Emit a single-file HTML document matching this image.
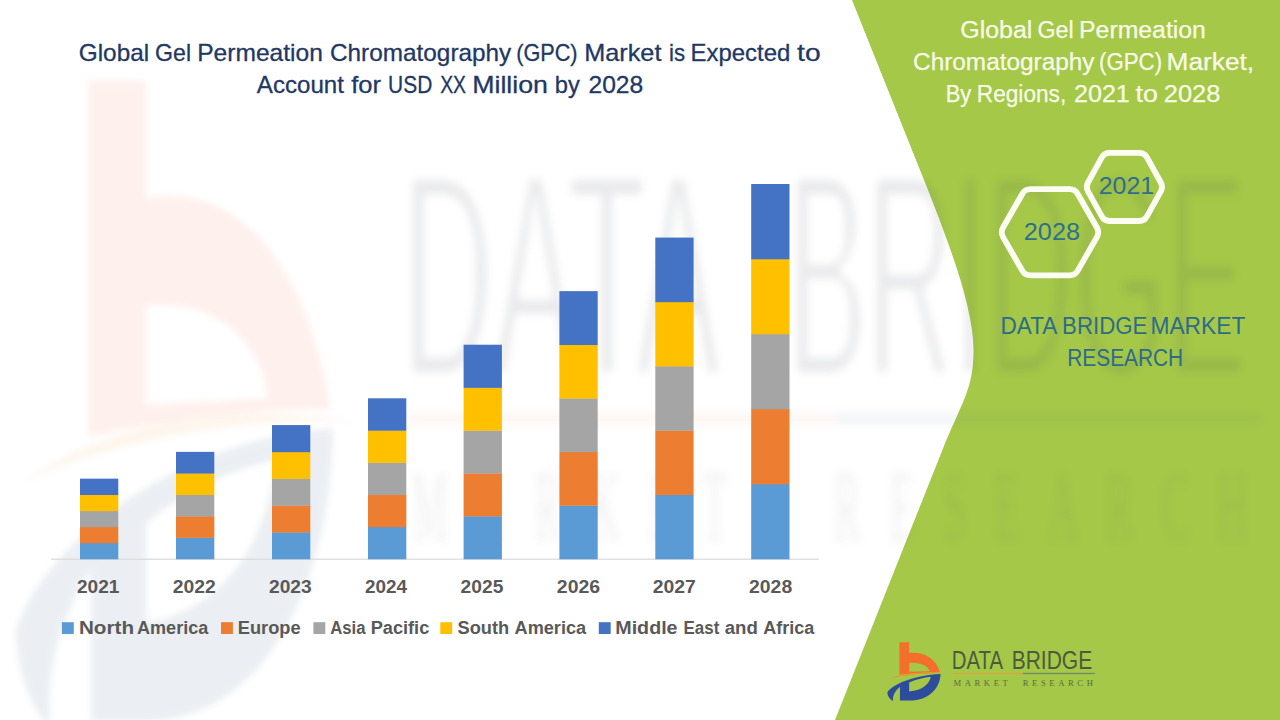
<!DOCTYPE html>
<html><head><meta charset="utf-8"><title>Global Gel Permeation Chromatography (GPC) Market</title>
<style>
html,body{margin:0;padding:0;background:#fff;}
body{width:1280px;height:720px;overflow:hidden;font-family:"Liberation Sans",sans-serif;}
svg{display:block;}
text{font-family:"Liberation Sans",sans-serif;}
text.srf{font-family:"Liberation Serif",serif;}
</style></head><body>
<svg width="1280" height="720" viewBox="0 0 1280 720">
<defs>
<filter id="blur" x="-5%" y="-5%" width="110%" height="110%"><feGaussianBlur stdDeviation="5"/></filter>
<filter id="blur3" x="-5%" y="-5%" width="110%" height="110%"><feGaussianBlur stdDeviation="3"/></filter>
<filter id="thin" x="-5%" y="-5%" width="110%" height="110%"><feMorphology operator="erode" radius="1 4"/><feGaussianBlur stdDeviation="4.5"/></filter>
</defs>
<rect width="1280" height="720" fill="#ffffff"/>

<path fill="#a5c848" d="M852,0 L924,180 C952,250 973.5,310 973.5,350 C973.5,390 962,401 942,451 L835,720 L1280,720 L1280,0 Z"/>
<g filter="url(#blur3)" opacity="0.082">
<g transform="translate(-27.93,11.10) scale(0.58042,1.06944)">
    <path fill="#f4582a" fill-rule="evenodd" d="M200,65 L300,65 L300,175 C430,160 570,215 618,372 C480,372 330,382 200,398 Z M300,275 L300,368 L510,362 C500,310 420,268 300,275 Z"/>
    <path fill="#e8962e" d="M85,440 C250,380 450,366 660,384 C450,380 250,402 85,440 Z"/>
    <path fill="#1d3f70" fill-rule="evenodd" d="M75,580 C120,500 350,400 622,390 C620,520 520,662 300,664 L205,664 L205,522 C160,560 125,610 135,670 C100,650 78,620 75,580 Z M300,478 C380,445 450,428 522,420 C512,490 440,560 300,572 Z"/>
  </g>
</g>
<g filter="url(#thin)" opacity="0.115">
<g transform="translate(0,376) scale(1,2.9070)">
<text x="402.22" y="0.00" font-size="100" fill="#454b58" textLength="318.01" lengthAdjust="spacingAndGlyphs">DATA</text>
<text x="787.18" y="0.00" font-size="100" fill="#454b58" textLength="458.96" lengthAdjust="spacingAndGlyphs">BRIDGE</text>
</g>
</g>
<g filter="url(#blur)" opacity="0.085">
<rect x="408" y="414.5" width="426" height="8" fill="#f07f3c"/>
<rect x="834" y="414.5" width="428" height="8" fill="#4f6496"/>
<g transform="translate(412,541) scale(1,2.5191)"><text x="0" y="0" font-size="40" fill="#4a5060" textLength="835" lengthAdjust="spacing" class="srf" xml:space="preserve">MARKET  RESEARCH</text></g>
</g>
<rect x="51" y="558.6" width="768" height="1.2" fill="#d9d9d9"/>
<rect x="80.0" y="542.93" width="38.3" height="16.37" fill="#5b9bd5"/>
<rect x="80.0" y="526.86" width="38.3" height="16.37" fill="#ed7d31"/>
<rect x="80.0" y="510.79" width="38.3" height="16.37" fill="#a5a5a5"/>
<rect x="80.0" y="494.71" width="38.3" height="16.37" fill="#ffc000"/>
<rect x="80.0" y="478.64" width="38.3" height="16.37" fill="#4472c4"/>
<rect x="176.0" y="537.57" width="38.3" height="21.73" fill="#5b9bd5"/>
<rect x="176.0" y="516.14" width="38.3" height="21.73" fill="#ed7d31"/>
<rect x="176.0" y="494.71" width="38.3" height="21.73" fill="#a5a5a5"/>
<rect x="176.0" y="473.29" width="38.3" height="21.73" fill="#ffc000"/>
<rect x="176.0" y="451.86" width="38.3" height="21.73" fill="#4472c4"/>
<rect x="272.0" y="532.21" width="38.3" height="27.09" fill="#5b9bd5"/>
<rect x="272.0" y="505.43" width="38.3" height="27.09" fill="#ed7d31"/>
<rect x="272.0" y="478.64" width="38.3" height="27.09" fill="#a5a5a5"/>
<rect x="272.0" y="451.86" width="38.3" height="27.09" fill="#ffc000"/>
<rect x="272.0" y="425.07" width="38.3" height="27.09" fill="#4472c4"/>
<rect x="368.0" y="526.86" width="38.3" height="32.44" fill="#5b9bd5"/>
<rect x="368.0" y="494.71" width="38.3" height="32.44" fill="#ed7d31"/>
<rect x="368.0" y="462.57" width="38.3" height="32.44" fill="#a5a5a5"/>
<rect x="368.0" y="430.43" width="38.3" height="32.44" fill="#ffc000"/>
<rect x="368.0" y="398.29" width="38.3" height="32.44" fill="#4472c4"/>
<rect x="463.6" y="516.14" width="38.3" height="43.16" fill="#5b9bd5"/>
<rect x="463.6" y="473.29" width="38.3" height="43.16" fill="#ed7d31"/>
<rect x="463.6" y="430.43" width="38.3" height="43.16" fill="#a5a5a5"/>
<rect x="463.6" y="387.57" width="38.3" height="43.16" fill="#ffc000"/>
<rect x="463.6" y="344.71" width="38.3" height="43.16" fill="#4472c4"/>
<rect x="559.4" y="505.43" width="38.3" height="53.87" fill="#5b9bd5"/>
<rect x="559.4" y="451.86" width="38.3" height="53.87" fill="#ed7d31"/>
<rect x="559.4" y="398.29" width="38.3" height="53.87" fill="#a5a5a5"/>
<rect x="559.4" y="344.71" width="38.3" height="53.87" fill="#ffc000"/>
<rect x="559.4" y="291.14" width="38.3" height="53.87" fill="#4472c4"/>
<rect x="655.3" y="494.71" width="38.3" height="64.59" fill="#5b9bd5"/>
<rect x="655.3" y="430.43" width="38.3" height="64.59" fill="#ed7d31"/>
<rect x="655.3" y="366.14" width="38.3" height="64.59" fill="#a5a5a5"/>
<rect x="655.3" y="301.86" width="38.3" height="64.59" fill="#ffc000"/>
<rect x="655.3" y="237.57" width="38.3" height="64.59" fill="#4472c4"/>
<rect x="751.2" y="484.00" width="38.3" height="75.30" fill="#5b9bd5"/>
<rect x="751.2" y="409.00" width="38.3" height="75.30" fill="#ed7d31"/>
<rect x="751.2" y="334.00" width="38.3" height="75.30" fill="#a5a5a5"/>
<rect x="751.2" y="259.00" width="38.3" height="75.30" fill="#ffc000"/>
<rect x="751.2" y="184.00" width="38.3" height="75.30" fill="#4472c4"/>
<text x="76.94" y="592.80" font-size="17.6" fill="#595959" font-weight="bold" textLength="42.39" lengthAdjust="spacingAndGlyphs">2021</text>
<text x="172.73" y="592.80" font-size="17.6" fill="#595959" font-weight="bold" textLength="43.05" lengthAdjust="spacingAndGlyphs">2022</text>
<text x="269.04" y="592.80" font-size="17.6" fill="#595959" font-weight="bold" textLength="42.66" lengthAdjust="spacingAndGlyphs">2023</text>
<text x="364.94" y="592.80" font-size="17.6" fill="#595959" font-weight="bold" textLength="42.06" lengthAdjust="spacingAndGlyphs">2024</text>
<text x="460.63" y="592.80" font-size="17.6" fill="#595959" font-weight="bold" textLength="42.70" lengthAdjust="spacingAndGlyphs">2025</text>
<text x="556.83" y="592.80" font-size="17.6" fill="#595959" font-weight="bold" textLength="43.28" lengthAdjust="spacingAndGlyphs">2026</text>
<text x="652.73" y="592.80" font-size="17.6" fill="#595959" font-weight="bold" textLength="43.12" lengthAdjust="spacingAndGlyphs">2027</text>
<text x="749.03" y="592.80" font-size="17.6" fill="#595959" font-weight="bold" textLength="43.17" lengthAdjust="spacingAndGlyphs">2028</text>
<rect x="61.9" y="622.2" width="11.9" height="11.8" fill="#5b9bd5"/>
<rect x="221.0" y="622.2" width="11.9" height="11.8" fill="#ed7d31"/>
<rect x="313.4" y="622.2" width="11.9" height="11.8" fill="#a5a5a5"/>
<rect x="440.3" y="622.2" width="11.9" height="11.8" fill="#ffc000"/>
<rect x="598.8" y="622.2" width="11.9" height="11.8" fill="#4472c4"/>
<text x="78.92" y="634.00" font-size="17.6" fill="#595959" font-weight="bold" textLength="55.17" lengthAdjust="spacingAndGlyphs">North</text>
<text x="137.05" y="634.00" font-size="17.6" fill="#595959" font-weight="bold" textLength="71.23" lengthAdjust="spacingAndGlyphs">America</text>
<text x="237.78" y="634.00" font-size="17.6" fill="#595959" font-weight="bold" textLength="62.84" lengthAdjust="spacingAndGlyphs">Europe</text>
<text x="330.18" y="634.00" font-size="17.6" fill="#595959" font-weight="bold" textLength="35.31" lengthAdjust="spacingAndGlyphs">Asia</text>
<text x="370.68" y="634.00" font-size="17.6" fill="#595959" font-weight="bold" textLength="58.60" lengthAdjust="spacingAndGlyphs">Pacific</text>
<text x="457.57" y="634.00" font-size="17.6" fill="#595959" font-weight="bold" textLength="51.66" lengthAdjust="spacingAndGlyphs">South</text>
<text x="514.55" y="634.00" font-size="17.6" fill="#595959" font-weight="bold" textLength="71.59" lengthAdjust="spacingAndGlyphs">America</text>
<text x="615.28" y="634.00" font-size="17.6" fill="#595959" font-weight="bold" textLength="62.29" lengthAdjust="spacingAndGlyphs">Middle</text>
<text x="683.57" y="634.00" font-size="17.6" fill="#595959" font-weight="bold" textLength="35.74" lengthAdjust="spacingAndGlyphs">East</text>
<text x="724.76" y="634.00" font-size="17.6" fill="#595959" font-weight="bold" textLength="33.07" lengthAdjust="spacingAndGlyphs">and</text>
<text x="763.30" y="634.00" font-size="17.6" fill="#595959" font-weight="bold" textLength="50.98" lengthAdjust="spacingAndGlyphs">Africa</text>
<text x="78.78" y="60.60" font-size="23.4" fill="#1f3864" textLength="70.35" lengthAdjust="spacingAndGlyphs" stroke="#1f3864" stroke-width="0.3">Global</text>
<text x="155.09" y="60.60" font-size="23.4" fill="#1f3864" textLength="35.96" lengthAdjust="spacingAndGlyphs" stroke="#1f3864" stroke-width="0.3">Gel</text>
<text x="197.24" y="60.60" font-size="23.4" fill="#1f3864" textLength="125.61" lengthAdjust="spacingAndGlyphs" stroke="#1f3864" stroke-width="0.3">Permeation</text>
<text x="330.01" y="60.60" font-size="23.4" fill="#1f3864" textLength="181.28" lengthAdjust="spacingAndGlyphs" stroke="#1f3864" stroke-width="0.3">Chromatography</text>
<text x="516.16" y="60.60" font-size="23.4" fill="#1f3864" textLength="61.44" lengthAdjust="spacingAndGlyphs" stroke="#1f3864" stroke-width="0.3">(GPC)</text>
<text x="584.18" y="60.60" font-size="23.4" fill="#1f3864" textLength="77.26" lengthAdjust="spacingAndGlyphs" stroke="#1f3864" stroke-width="0.3">Market</text>
<text x="669.01" y="60.60" font-size="23.4" fill="#1f3864" textLength="16.04" lengthAdjust="spacingAndGlyphs" stroke="#1f3864" stroke-width="0.3">is</text>
<text x="690.54" y="60.60" font-size="23.4" fill="#1f3864" textLength="99.75" lengthAdjust="spacingAndGlyphs" stroke="#1f3864" stroke-width="0.3">Expected</text>
<text x="797.07" y="60.60" font-size="23.4" fill="#1f3864" textLength="23.51" lengthAdjust="spacingAndGlyphs" stroke="#1f3864" stroke-width="0.3">to</text>
<text x="256.85" y="92.50" font-size="23.4" fill="#1f3864" textLength="87.07" lengthAdjust="spacingAndGlyphs" stroke="#1f3864" stroke-width="0.3">Account</text>
<text x="351.24" y="92.50" font-size="23.4" fill="#1f3864" textLength="29.79" lengthAdjust="spacingAndGlyphs" stroke="#1f3864" stroke-width="0.3">for</text>
<text x="388.09" y="92.50" font-size="23.4" fill="#1f3864" textLength="44.16" lengthAdjust="spacingAndGlyphs" stroke="#1f3864" stroke-width="0.3">USD</text>
<text x="440.16" y="92.50" font-size="23.4" fill="#1f3864" textLength="25.84" lengthAdjust="spacingAndGlyphs" stroke="#1f3864" stroke-width="0.3">XX</text>
<text x="472.21" y="92.50" font-size="23.4" fill="#1f3864" textLength="75.78" lengthAdjust="spacingAndGlyphs" stroke="#1f3864" stroke-width="0.3">Million</text>
<text x="554.72" y="92.50" font-size="23.4" fill="#1f3864" textLength="25.02" lengthAdjust="spacingAndGlyphs" stroke="#1f3864" stroke-width="0.3">by</text>
<text x="588.46" y="92.50" font-size="23.4" fill="#1f3864" textLength="54.81" lengthAdjust="spacingAndGlyphs" stroke="#1f3864" stroke-width="0.3">2028</text>
<text x="960.25" y="38.00" font-size="23.3" fill="#f8fbe9" textLength="72.02" lengthAdjust="spacingAndGlyphs" stroke="#f8fbe9" stroke-width="0.25">Global</text>
<text x="1037.53" y="38.00" font-size="23.3" fill="#f8fbe9" textLength="36.23" lengthAdjust="spacingAndGlyphs" stroke="#f8fbe9" stroke-width="0.25">Gel</text>
<text x="1079.07" y="38.00" font-size="23.3" fill="#f8fbe9" textLength="126.85" lengthAdjust="spacingAndGlyphs" stroke="#f8fbe9" stroke-width="0.25">Permeation</text>
<text x="913.06" y="70.20" font-size="23.3" fill="#f8fbe9" textLength="181.48" lengthAdjust="spacingAndGlyphs" stroke="#f8fbe9" stroke-width="0.25">Chromatography</text>
<text x="1099.02" y="70.20" font-size="23.3" fill="#f8fbe9" textLength="63.06" lengthAdjust="spacingAndGlyphs" stroke="#f8fbe9" stroke-width="0.25">(GPC)</text>
<text x="1166.54" y="70.20" font-size="23.3" fill="#f8fbe9" textLength="87.62" lengthAdjust="spacingAndGlyphs" stroke="#f8fbe9" stroke-width="0.25">Market,</text>
<text x="945.70" y="101.80" font-size="23.3" fill="#f8fbe9" textLength="25.65" lengthAdjust="spacingAndGlyphs" stroke="#f8fbe9" stroke-width="0.25">By</text>
<text x="976.84" y="101.80" font-size="23.3" fill="#f8fbe9" textLength="89.39" lengthAdjust="spacingAndGlyphs" stroke="#f8fbe9" stroke-width="0.25">Regions,</text>
<text x="1073.94" y="101.80" font-size="23.3" fill="#f8fbe9" textLength="55.89" lengthAdjust="spacingAndGlyphs" stroke="#f8fbe9" stroke-width="0.25">2021</text>
<text x="1135.59" y="101.80" font-size="23.3" fill="#f8fbe9" textLength="22.33" lengthAdjust="spacingAndGlyphs" stroke="#f8fbe9" stroke-width="0.25">to</text>
<text x="1163.82" y="101.80" font-size="23.3" fill="#f8fbe9" textLength="56.48" lengthAdjust="spacingAndGlyphs" stroke="#f8fbe9" stroke-width="0.25">2028</text>
<path d="M1003.08,237.07 Q1000.35,232.30 1003.08,227.53 L1022.27,193.97 Q1025.00,189.20 1030.50,189.20 L1069.50,189.20 Q1075.00,189.20 1077.73,193.97 L1096.92,227.53 Q1099.65,232.30 1096.92,237.07 L1077.73,270.63 Q1075.00,275.40 1069.50,275.40 L1030.50,275.40 Q1025.00,275.40 1022.27,270.63 Z" fill="none" stroke="#fbfdf3" stroke-width="5.8" stroke-linejoin="round"/>
<path d="M1087.97,191.28 Q1085.55,186.90 1087.97,182.52 L1101.98,157.18 Q1104.40,152.80 1109.40,152.80 L1139.40,152.80 Q1144.40,152.80 1146.82,157.18 L1160.83,182.52 Q1163.25,186.90 1160.83,191.28 L1146.82,216.62 Q1144.40,221.00 1139.40,221.00 L1109.40,221.00 Q1104.40,221.00 1101.98,216.62 Z" fill="none" stroke="#fbfdf3" stroke-width="5.8" stroke-linejoin="round"/>
<text x="1098.75" y="194.40" font-size="23.2" fill="#2d6f8c" textLength="55.37" lengthAdjust="spacingAndGlyphs">2021</text>
<text x="1023.83" y="240.40" font-size="23.2" fill="#2d6f8c" textLength="56.17" lengthAdjust="spacingAndGlyphs">2028</text>
<text x="1000.55" y="334.00" font-size="23" fill="#2d6c88" textLength="56.79" lengthAdjust="spacingAndGlyphs">DATA</text>
<text x="1062.08" y="334.00" font-size="23" fill="#2d6c88" textLength="85.28" lengthAdjust="spacingAndGlyphs">BRIDGE</text>
<text x="1150.43" y="334.00" font-size="23" fill="#2d6c88" textLength="94.89" lengthAdjust="spacingAndGlyphs">MARKET</text>
<text x="1067.29" y="365.60" font-size="23" fill="#2d6c88" textLength="115.91" lengthAdjust="spacingAndGlyphs">RESEARCH</text>
<g transform="translate(880,636) scale(0.097222,0.097222)">
    <path fill="#f36f2b" fill-rule="evenodd" d="M200,65 L300,65 L300,175 C430,160 570,215 618,372 C480,372 330,382 200,398 Z M300,275 L300,368 L510,362 C500,310 420,268 300,275 Z"/>
    <path fill="#e8962e" d="M85,440 C250,380 450,366 660,384 C450,380 250,402 85,440 Z"/>
    <path fill="#2d4c9c" fill-rule="evenodd" d="M75,580 C120,500 350,400 622,390 C620,520 520,662 300,664 L205,664 L205,522 C160,560 125,610 135,670 C100,650 78,620 75,580 Z M300,478 C380,445 450,428 522,420 C512,490 440,560 300,572 Z"/>
  </g>
<text x="951.82" y="669.40" font-size="25.6" fill="#4d5a3c" textLength="51.32" lengthAdjust="spacingAndGlyphs">DATA</text>
<text x="1011.68" y="669.40" font-size="25.6" fill="#4d5a3c" textLength="80.53" lengthAdjust="spacingAndGlyphs">BRIDGE</text>
<rect x="953" y="672.8" width="70" height="1.3" fill="#d9a441"/>
<rect x="1023" y="672.8" width="72" height="1.3" fill="#6f8a6a"/>
<text x="953.4" y="686.3" font-size="8.6" fill="#5c6b45" textLength="139.5" lengthAdjust="spacing" class="srf" xml:space="preserve">MARKET  RESEARCH</text>
</svg>
</body></html>
